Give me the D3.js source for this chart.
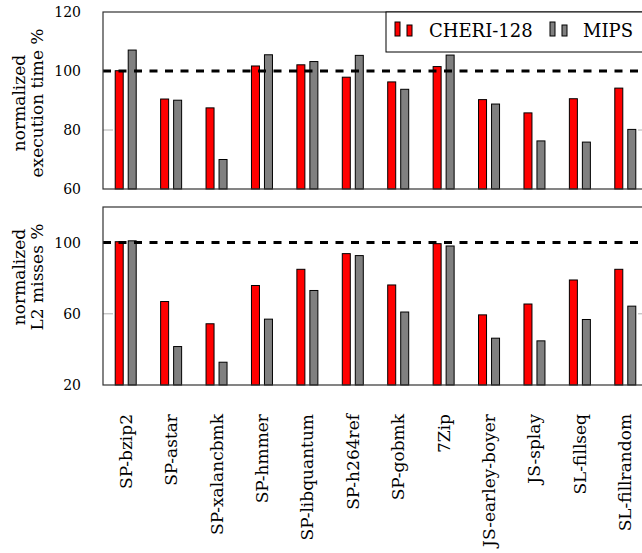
<!DOCTYPE html>
<html>
<head>
<meta charset="utf-8">
<script src="https://cdn.jsdelivr.net/npm/d3@7"></script>
<style>
  html, body { margin: 0; padding: 0; background: #fff; }
  svg { display: block; }
  text { font-family: "DejaVu Serif", "Liberation Serif", serif; fill: #000; }
</style>
</head>
<body>
<svg id="chart" width="642" height="553"></svg>
<script>
// Benchmarks along the shared x axis
const categories = [
  "SP-bzip2", "SP-astar", "SP-xalancbmk", "SP-hmmer", "SP-libquantum",
  "SP-h264ref", "SP-gobmk", "7Zip", "JS-earley-boyer", "JS-splay",
  "SL-fillseq", "SL-fillrandom"
];
const seriesNames = ["CHERI-128", "MIPS"];

// Normalized execution time (%)
const execCheri = [100.1, 90.5, 87.5, 101.7, 102.1, 97.9, 96.3, 101.5, 90.3, 85.8, 90.6, 94.2];
const execMips  = [107.1, 90.1, 70.0, 105.5, 103.2, 105.3, 93.8, 105.4, 88.8, 76.3, 75.9, 80.2];

// Normalized L2 misses (%)
const l2Cheri = [100.5, 66.9, 54.4, 75.9, 85.0, 93.8, 76.2, 99.4, 59.4, 65.5, 79.0, 85.0];
const l2Mips  = [101.0, 41.6, 32.8, 57.0, 73.1, 92.7, 61.0, 98.1, 46.3, 44.8, 56.8, 64.3];

// Tick values
const execTicks = [60, 80, 100, 120];
const l2Ticks = [20, 60, 100];

const colors = { "CHERI-128": "#ff0000", "MIPS": "#808080" };

const svg = d3.select("#chart");
const left = 103, right = 648;

const x = d3.scaleBand().domain(categories).range([left, right]).padding(0);
const xInner = d3.scaleBand().domain(seriesNames)
  .range([-10.5, 10.5]).paddingInner(2 - 21 / 13).paddingOuter(0);

const panels = [
  { top: 12, bottom: 189, domain: [60, 120], ticks: execTicks,
    values: { "CHERI-128": execCheri, "MIPS": execMips },
    title: ["normalized", "execution time %"], titleY: 103 },
  { top: 207, bottom: 385, domain: [20, 120], ticks: l2Ticks,
    values: { "CHERI-128": l2Cheri, "MIPS": l2Mips },
    title: ["normalized", "L2 misses %"], titleY: 277 }
];

panels.forEach(p => {
  const y = d3.scaleLinear().domain(p.domain).range([p.bottom, p.top]);
  const g = svg.append("g");

  // inner tick marks on both sides
  p.ticks.filter(t => t !== p.domain[0] && t !== p.domain[1] && t !== 100).forEach(t => {
    g.append("line").attr("x1", left).attr("x2", left + 10)
      .attr("y1", y(t)).attr("y2", y(t)).attr("stroke", "#b0b0b0").attr("stroke-width", 1);
    g.append("line").attr("x1", right - 10).attr("x2", right)
      .attr("y1", y(t)).attr("y2", y(t)).attr("stroke", "#b0b0b0").attr("stroke-width", 1);
  });

  // y axis labels
  const axis = d3.axisLeft(y).tickValues(p.ticks).tickSize(0).tickPadding(22);
  const ag = g.append("g").attr("transform", `translate(${left},0)`).call(axis);
  ag.select(".domain").remove();
  ag.selectAll("text").attr("font-family", "DejaVu Serif").attr("font-size", 14)
    .attr("fill", "#000");

  // bars
  seriesNames.forEach(s => {
    g.selectAll(null).data(categories).enter().append("rect")
      .attr("x", d => x(d) + x.bandwidth() / 2 + xInner(s))
      .attr("width", xInner.bandwidth())
      .attr("y", (d, i) => y(p.values[s][i]))
      .attr("height", (d, i) => y(p.domain[0]) - y(p.values[s][i]))
      .attr("fill", colors[s]).attr("stroke", "#000").attr("stroke-width", 1);
  });

  // reference line at 100 %
  g.append("line").attr("x1", left).attr("x2", right)
    .attr("y1", y(100)).attr("y2", y(100))
    .attr("stroke", "#000").attr("stroke-width", 3).attr("stroke-dasharray", "8,7.5");

  // frame
  g.append("rect").attr("x", left).attr("y", p.top)
    .attr("width", right - left).attr("height", p.bottom - p.top)
    .attr("fill", "none").attr("stroke", "#333").attr("stroke-width", 1.2);

  // y title, two lines
  const tt = g.append("text")
    .attr("transform", `translate(0,${p.titleY}) rotate(-90)`)
    .attr("text-anchor", "middle").attr("font-size", 17);
  tt.append("tspan").attr("x", 0).attr("y", 25).text(p.title[0]);
  tt.append("tspan").attr("x", 0).attr("y", 42.5).text(p.title[1]);
});

// category labels under the lower panel
svg.append("g").selectAll("text").data(categories).enter().append("text")
  .attr("transform", d => `translate(${x(d) + x.bandwidth() / 2 + 6},414) rotate(-90)`)
  .attr("text-anchor", "end").attr("font-size", 17)
  .text(d => d);

// legend
const lg = svg.append("g");
lg.append("rect").attr("x", 386).attr("y", 12).attr("width", right - 386).attr("height", 40)
  .attr("fill", "#fff").attr("stroke", "#000").attr("stroke-width", 1);
const legendItems = [
  { name: "CHERI-128", icon: 395, text: 429 },
  { name: "MIPS", icon: 550, text: 583 }
];
legendItems.forEach(it => {
  lg.append("rect").attr("x", it.icon).attr("y", 22).attr("width", 5).attr("height", 14)
    .attr("fill", colors[it.name]).attr("stroke", "#000").attr("stroke-width", 1);
  lg.append("rect").attr("x", it.icon + 12).attr("y", 25).attr("width", 5).attr("height", 11)
    .attr("fill", colors[it.name]).attr("stroke", "#000").attr("stroke-width", 1);
  lg.append("text").attr("x", it.text).attr("y", 37).attr("font-size", 18).text(it.name);
});
</script>
</body>
</html>
